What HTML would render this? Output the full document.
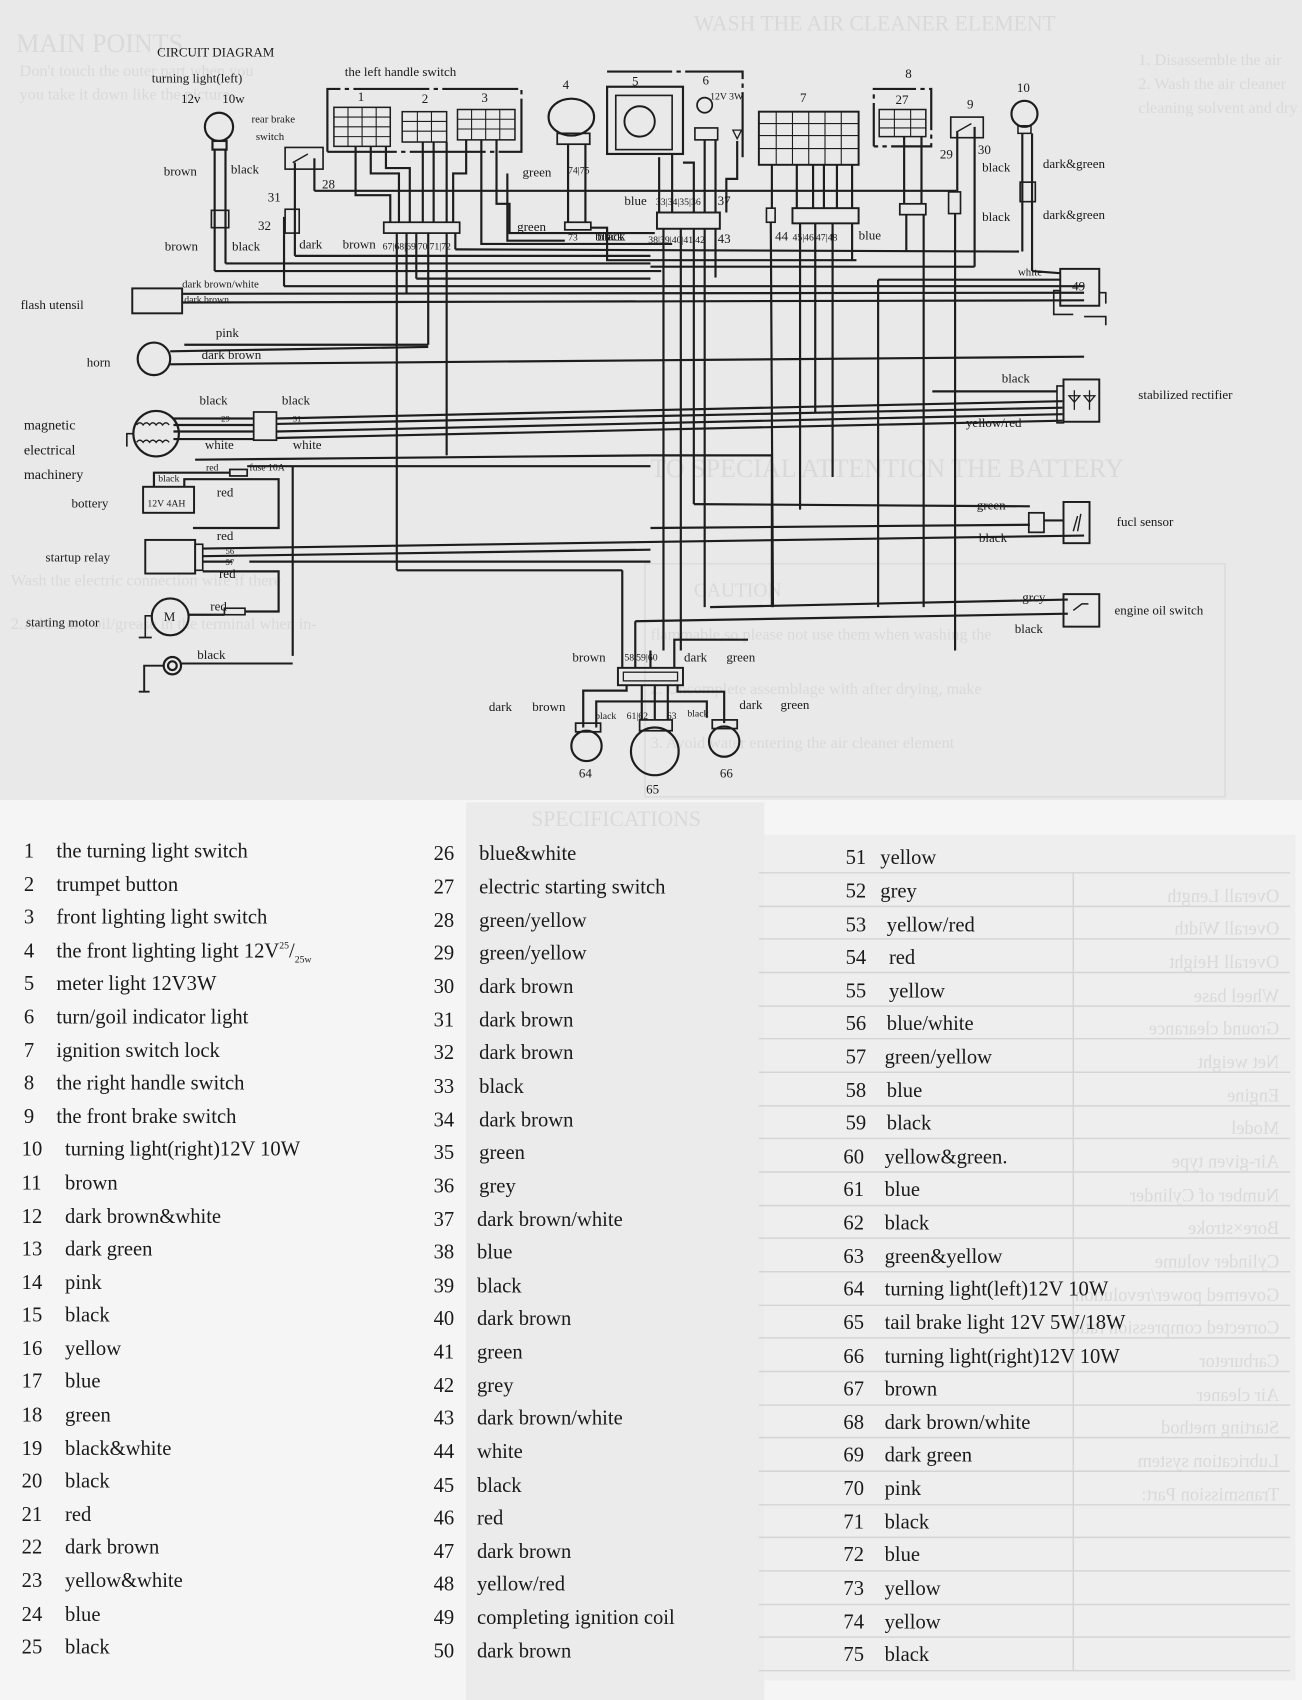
<!DOCTYPE html>
<html><head><meta charset="utf-8">
<style>
html,body{margin:0;padding:0;background:#f3f3f3;}
svg{display:block;}
text{font-family:"Liberation Serif",serif;fill:#1a1a1a;}
.g{fill:#d9d9d9;}
.lg text{font-size:19px;}
</style></head><body>
<svg width="1302" height="1700" viewBox="0 0 1201 1568" preserveAspectRatio="none" xmlns="http://www.w3.org/2000/svg">
<rect x="0" y="0" width="1201" height="738" fill="#e9e9e9"/>
<rect x="0" y="738" width="1201" height="830" fill="#f5f5f5"/>
<rect x="430" y="740" width="275" height="828" fill="#ebebeb"/>
<rect x="705" y="770" width="490" height="780" fill="#eeeeee"/>
<g font-size="20">
<text x="15" y="48" font-size="24" class="g">MAIN POINTS</text>
<text x="18" y="70" font-size="15" class="g">Don't touch the outer part when you</text>
<text x="18" y="92" font-size="15" class="g">you take it down like the picture</text>
<text x="640" y="28" font-size="20" class="g">WASH THE AIR CLEANER ELEMENT</text>
<text x="1050" y="60" font-size="15" class="g">1. Disassemble the air</text>
<text x="1050" y="82" font-size="15" class="g">2. Wash the air cleaner</text>
<text x="1050" y="104" font-size="15" class="g">cleaning solvent and dry</text>
<text x="600" y="440" font-size="24" class="g">TO SPECIAL ATTENTION THE BATTERY</text>
<text x="640" y="550" font-size="18" class="g">CAUTION</text>
<text x="600" y="590" font-size="15" class="g">flammable,so please not use them when washing the</text>
<text x="600" y="640" font-size="15" class="g">2. Uncomplete assemblage with after drying, make</text>
<text x="600" y="690" font-size="15" class="g">3. Avoid water entering the air cleaner element</text>
<text x="10" y="540" font-size="15" class="g">Wash the electric connection wire if there</text>
<text x="10" y="580" font-size="15" class="g">2.Add some oil/grease in the terminal when in-</text>
<text x="490" y="762" font-size="20" class="g">SPECIFICATIONS</text>
</g>
<rect x="595" y="520" width="535" height="215" fill="none" stroke="#dcdcdc" stroke-width="1.5"/>
<g stroke="#d4d4d4" stroke-width="1.3">
<line x1="700" y1="805" x2="1190" y2="805"/>
<line x1="700" y1="836" x2="1190" y2="836"/><line x1="700" y1="866" x2="1190" y2="866"/>
<line x1="700" y1="897" x2="1190" y2="897"/><line x1="700" y1="928" x2="1190" y2="928"/>
<line x1="700" y1="958" x2="1190" y2="958"/><line x1="700" y1="989" x2="1190" y2="989"/>
<line x1="700" y1="1020" x2="1190" y2="1020"/><line x1="700" y1="1050" x2="1190" y2="1050"/>
<line x1="700" y1="1081" x2="1190" y2="1081"/><line x1="700" y1="1112" x2="1190" y2="1112"/>
<line x1="700" y1="1142" x2="1190" y2="1142"/><line x1="700" y1="1173" x2="1190" y2="1173"/>
<line x1="700" y1="1204" x2="1190" y2="1204"/><line x1="700" y1="1234" x2="1190" y2="1234"/>
<line x1="700" y1="1265" x2="1190" y2="1265"/><line x1="700" y1="1296" x2="1190" y2="1296"/>
<line x1="700" y1="1326" x2="1190" y2="1326"/><line x1="700" y1="1357" x2="1190" y2="1357"/>
<line x1="700" y1="1388" x2="1190" y2="1388"/><line x1="700" y1="1418" x2="1190" y2="1418"/>
<line x1="700" y1="1449" x2="1190" y2="1449"/><line x1="700" y1="1480" x2="1190" y2="1480"/>
<line x1="700" y1="1510" x2="1190" y2="1510"/><line x1="700" y1="1541" x2="1190" y2="1541"/>
<line x1="990" y1="805" x2="990" y2="1541"/>
</g>
<g transform="translate(2380,0) scale(-1,1)" font-size="17">
<text x="1200" y="832" class="g">Overall Length</text><text x="1200" y="862" class="g">Overall Width</text>
<text x="1200" y="893" class="g">Overall Height</text><text x="1200" y="924" class="g">Wheel base</text>
<text x="1200" y="954" class="g">Ground clearance</text><text x="1200" y="985" class="g">Net weight</text>
<text x="1200" y="1016" class="g">Engine</text><text x="1200" y="1046" class="g">Model</text>
<text x="1200" y="1077" class="g">Air-given type</text><text x="1200" y="1108" class="g">Number of Cylinder</text>
<text x="1200" y="1138" class="g">Bore×stroke</text><text x="1200" y="1169" class="g">Cylinder volume</text>
<text x="1200" y="1200" class="g">Governed power/revolution</text><text x="1200" y="1230" class="g">Corrected compression ratio</text>
<text x="1200" y="1261" class="g">Carburetor</text><text x="1200" y="1292" class="g">Air cleaner</text>
<text x="1200" y="1322" class="g">Starting method</text><text x="1200" y="1353" class="g">Lubrication system</text>
<text x="1200" y="1384" class="g">Transmission Part:</text>
</g>

<g stroke="#1d1d1d" stroke-width="2" fill="none">
<circle cx="202" cy="117" r="13"/>
<rect x="196" y="130" width="13" height="8"/>
<line x1="198" y1="138" x2="198" y2="250"/><line x1="208" y1="138" x2="208" y2="243"/>
<rect x="195" y="194" width="16" height="16" stroke-width="1.5"/>
<line x1="208" y1="243" x2="600" y2="243"/>
<line x1="198" y1="250" x2="610" y2="250"/>
<rect x="263" y="136" width="35" height="20" stroke-width="1.5"/>
<line x1="270" y1="150" x2="284" y2="142" stroke-width="1.3"/>
<line x1="272" y1="150" x2="272" y2="215"/><line x1="290" y1="146" x2="290" y2="176"/>
<line x1="290" y1="176" x2="882" y2="176"/>
<rect x="263" y="193" width="13" height="22" stroke-width="1.5"/>
<line x1="272" y1="215" x2="272" y2="236"/><line x1="272" y1="236" x2="600" y2="236"/>
<line x1="262" y1="200" x2="262" y2="264"/><line x1="262" y1="264" x2="1000" y2="264"/>
<path d="M302 140 V82 H481 V140 H302" stroke-dasharray="70 4 4 4"/>
<rect x="308" y="99" width="52" height="36" stroke-width="1.4"/>
<path d="M308 108H360M308 117H360M308 126H360M321 99V135M334 99V135M347 99V135" stroke-width="1"/>
<rect x="371" y="103" width="41" height="28" stroke-width="1.4"/>
<path d="M371 112H412M371 121H412M385 103V131M398 103V131" stroke-width="1"/>
<rect x="422" y="101" width="53" height="28" stroke-width="1.4"/>
<path d="M422 110H475M422 119H475M435 101V129M448 101V129M461 101V129" stroke-width="1"/>
<path d="M328 135 V180 H360 V205"/><path d="M342 135 V160 H368 V205"/>
<path d="M356 135 V155 H378 V205"/><path d="M390 131 V205"/><path d="M400 131 V205"/>
<path d="M412 131 V205"/><path d="M430 129 V160 H418 V205"/>
<path d="M444 129 V225 H620"/><path d="M458 129 V188 H470 V215 H604"/>
<rect x="354" y="205" width="70" height="10" stroke-width="1.6"/>
<line x1="366" y1="215" x2="366" y2="526"/><line x1="412" y1="215" x2="412" y2="420"/>
<line x1="384" y1="215" x2="384" y2="257"/><line x1="384" y1="257" x2="600" y2="257"/>
<line x1="395" y1="215" x2="395" y2="318"/><line x1="170" y1="318" x2="395" y2="318"/>
<line x1="375" y1="215" x2="375" y2="270"/>
<line x1="420" y1="215" x2="420" y2="230"/><line x1="420" y1="230" x2="940" y2="232"/>
<rect x="122" y="266" width="46" height="23" stroke-width="1.8"/>
<line x1="168" y1="271" x2="1000" y2="270"/><line x1="168" y1="279" x2="1000" y2="277"/>
<circle cx="142" cy="331" r="15"/>
<line x1="157" y1="324" x2="395" y2="320"/><line x1="157" y1="336" x2="1000" y2="329"/>
<ellipse cx="527" cy="108" rx="21" ry="17"/>
<rect x="514" y="123" width="30" height="10" stroke-width="1.6"/>
<line x1="524" y1="133" x2="524" y2="205"/><line x1="540" y1="133" x2="540" y2="205"/>
<rect x="521" y="205" width="24" height="7" stroke-width="1.6"/>
<path d="M468 160 V222 H521"/><path d="M545 210 H560 V240 H790"/>
<rect x="560" y="80" width="70" height="62"/>
<path d="M560 66 H685 V145" stroke-dasharray="60 4 4 4"/>
<rect x="568" y="88" width="52" height="50" stroke-width="1.5"/>
<circle cx="590" cy="112" r="14" stroke-width="1.8"/>
<circle cx="650" cy="97" r="7" stroke-width="1.6"/>
<rect x="641" y="118" width="21" height="11" stroke-width="1.5"/>
<path d="M676 120 L684 120 L680 128Z" stroke-width="1.2"/>
<path d="M608 145 V196"/><path d="M620 142 V196"/><path d="M630 150 H640 V196"/><path d="M650 129 V196"/><path d="M660 129 V196"/><path d="M680 130 V165 H670 V196"/>
<rect x="606" y="196" width="58" height="15" stroke-width="1.8"/>
<line x1="612" y1="211" x2="612" y2="600"/><line x1="628" y1="211" x2="628" y2="600"/>
<line x1="640" y1="211" x2="640" y2="465"/><line x1="650" y1="211" x2="650" y2="560"/>
<line x1="660" y1="211" x2="660" y2="256"/>
<rect x="700" y="103" width="92" height="49" stroke-width="1.8"/>
<path d="M700 114H792M700 125H792M700 137H792M716 103V152M731 103V152M746 103V152M761 103V152M776 103V152" stroke-width="1"/>
<line x1="712" y1="152" x2="712" y2="192"/>
<rect x="707" y="192" width="8" height="13" stroke-width="1.5"/>
<line x1="711" y1="205" x2="713" y2="560"/>
<path d="M735 152V192M750 152V192M760 152V192M772 152V192M786 152V192" />
<rect x="731" y="192" width="61" height="14" stroke-width="1.8"/>
<line x1="738" y1="206" x2="738" y2="470"/><line x1="752" y1="206" x2="752" y2="380"/>
<line x1="768" y1="206" x2="768" y2="440"/><line x1="786" y1="206" x2="786" y2="240"/>
<path d="M806 135 V82 H859 V135 H806" stroke-dasharray="40 4 4 4"/>
<rect x="811" y="101" width="43" height="25" stroke-width="1.4"/>
<path d="M811 110H854M811 118H854M825 101V126M840 101V126" stroke-width="1"/>
<line x1="834" y1="126" x2="834" y2="188"/><line x1="850" y1="126" x2="850" y2="188"/>
<rect x="830" y="188" width="24" height="10" stroke-width="1.6"/>
<line x1="836" y1="198" x2="836" y2="232"/><line x1="852" y1="198" x2="852" y2="560"/>
<rect x="877" y="108" width="30" height="19" stroke-width="1.5"/>
<line x1="882" y1="122" x2="896" y2="114" stroke-width="1.3"/>
<line x1="883" y1="122" x2="883" y2="177"/><line x1="899" y1="117" x2="899" y2="246"/>
<rect x="875" y="177" width="11" height="20" stroke-width="1.5"/>
<line x1="881" y1="197" x2="881" y2="600"/>
<line x1="600" y1="246" x2="899" y2="246"/>
<circle cx="945" cy="105" r="12"/>
<rect x="939" y="116" width="12" height="7" stroke-width="1.4"/>
<line x1="943" y1="123" x2="943" y2="232"/><line x1="952" y1="123" x2="952" y2="250"/>
<rect x="941" y="168" width="14" height="18" stroke-width="1.5"/>
<line x1="952" y1="250" x2="978" y2="252"/>
<rect x="978" y="248" width="36" height="34" stroke-width="1.8"/>
<path d="M978 268 H972 V290 H990 M1014 270 H1020 V280 M1000 292 H1020 V300" stroke-width="1.5"/>
<line x1="810" y1="258" x2="978" y2="258"/><line x1="810" y1="258" x2="810" y2="560"/>
<circle cx="144" cy="400" r="21"/>
<path d="M126 392 q3 -4 6 0 q3 -4 6 0 q3 -4 6 0 q3 -4 6 0 q3-4 6 0 M126 408 q3 -4 6 0 q3 -4 6 0 q3 -4 6 0 q3 -4 6 0 q3-4 6 0" stroke-width="1.3"/>
<path d="M123 400 h-6 v12" stroke-width="1.5"/>
<line x1="160" y1="386" x2="234" y2="386"/><line x1="160" y1="392" x2="234" y2="392"/>
<line x1="160" y1="398" x2="234" y2="398"/><line x1="160" y1="405" x2="234" y2="405"/>
<rect x="234" y="380" width="21" height="26" stroke-width="1.6"/>
<line x1="255" y1="386" x2="980" y2="370"/><line x1="255" y1="391" x2="980" y2="376"/>
<line x1="255" y1="398" x2="980" y2="382"/><line x1="255" y1="404" x2="980" y2="388"/>
<rect x="975" y="356" width="6" height="34" stroke-width="1.5"/>
<rect x="981" y="350" width="33" height="39" stroke-width="1.8"/>
<path d="M991 360 v18 M986 365 h10 l-5 6z M1005 360 v18 M1000 365 h10 l-5 6z" stroke-width="1.2"/>
<line x1="860" y1="361" x2="975" y2="361"/>
<rect x="132" y="449" width="47" height="24" stroke-width="1.8"/>
<path d="M142 449 V436 H212 M228 430 H600"/>
<rect x="212" y="433" width="16" height="6" stroke-width="1.6"/>
<path d="M170 449 V442 H257 V487 H178"/>
<line x1="180" y1="424" x2="600" y2="420"/>
<line x1="270" y1="430" x2="270" y2="605"/>
<rect x="134" y="498" width="46" height="31" stroke-width="1.8"/>
<rect x="180" y="502" width="7" height="24" stroke-width="1.5"/>
<line x1="187" y1="506" x2="1000" y2="494"/><line x1="187" y1="513" x2="600" y2="507"/>
<path d="M187 518 H214 M230 518 H600"/>
<path d="M187 527 H257 V564 H226"/>
<rect x="207" y="561" width="19" height="6" stroke-width="1.5"/>
<circle cx="157" cy="569" r="17"/>
<line x1="174" y1="567" x2="207" y2="567"/>
<path d="M140 568 h-6 v20 M128 588 h12" stroke-width="1.5"/>
<circle cx="159" cy="614" r="8"/><circle cx="159" cy="614" r="4"/>
<path d="M167 612 H270 M151 614 h-18 v24 M128 638 h10" stroke-width="1.8"/>
<line x1="366" y1="526" x2="574" y2="526"/><line x1="574" y1="526" x2="574" y2="616"/>
<line x1="640" y1="465" x2="950" y2="467"/><line x1="600" y1="487" x2="950" y2="484"/>
<rect x="949" y="473" width="14" height="18" stroke-width="1.6"/>
<line x1="963" y1="480" x2="981" y2="480"/>
<rect x="981" y="463" width="24" height="38" stroke-width="1.8"/>
<path d="M990 490 l4 -14 M997 474 l-3 16" stroke-width="1.3"/>
<line x1="655" y1="560" x2="985" y2="553"/><line x1="586" y1="573" x2="985" y2="566"/>
<line x1="586" y1="573" x2="586" y2="616"/>
<rect x="981" y="548" width="33" height="30" stroke-width="1.8"/>
<path d="M990 563 l8 -6 l6 0" stroke-width="1.3"/>
<line x1="712" y1="560" x2="712" y2="420"/>
<line x1="600" y1="420" x2="712" y2="420"/>
<path d="M622 616 V590 H690"/><path d="M600 600 V616"/>
<rect x="570" y="616" width="60" height="16" stroke-width="1.8"/>
<rect x="575" y="620" width="50" height="8" stroke-width="1.2"/>
<path d="M578 632 V637 H538 V671"/><path d="M550 671 V647 H652 V662"/>
<path d="M625 632 V638 H668 V667"/>
<line x1="592" y1="632" x2="592" y2="664"/><line x1="604" y1="632" x2="604" y2="664"/><line x1="616" y1="632" x2="616" y2="664"/>
<rect x="531" y="667" width="23" height="8" stroke-width="1.6"/>
<ellipse cx="541" cy="688" rx="14" ry="14"/>
<rect x="590" y="664" width="30" height="10" stroke-width="1.6"/>
<circle cx="604" cy="693" r="22"/>
<rect x="657" y="664" width="23" height="8" stroke-width="1.6"/>
<ellipse cx="668" cy="684" rx="14" ry="14"/>
</g>

<g font-size="12">
<text x="145" y="52">CIRCUIT DIAGRAM</text>
<text x="140" y="76">turning  light(left)</text>
<text x="167" y="95">12v</text><text x="205" y="95">10w</text>
<text x="232" y="113" font-size="10">rear brake</text><text x="236" y="129" font-size="10">switch</text>
<text x="151" y="162">brown</text><text x="213" y="160">black</text>
<text x="152" y="231">brown</text><text x="214" y="231">black</text>
<text x="297" y="174">28</text><text x="247" y="186">31</text><text x="238" y="212">32</text>
<text x="276" y="229">dark</text><text x="316" y="229">brown</text>
<text x="318" y="70">the left handle switch</text>
<text x="330" y="93">1</text><text x="389" y="95">2</text><text x="444" y="94">3</text>
<text x="353" y="230" font-size="9">67|68|69|70|71|72</text>
<text x="519" y="82">4</text>
<text x="482" y="163">green</text><text x="524" y="160" font-size="9">74|75</text>
<text x="477" y="213">green</text><text x="524" y="222" font-size="9">73</text><text x="551" y="222">black</text>
<text x="168" y="265" font-size="10">dark brown/white</text><text x="170" y="279" font-size="9">dark brown</text>
<text x="19" y="285">flash  utensil</text>
<text x="199" y="311">pink</text><text x="186" y="331">dark  brown</text>
<text x="80" y="338">horn</text>
<text x="184" y="373">black</text><text x="260" y="373">black</text>
<text x="189" y="414">white</text><text x="270" y="414">white</text>
<text x="204" y="389" font-size="8">29</text><text x="270" y="389" font-size="8">31</text>
<text x="22" y="396" font-size="13">magnetic</text><text x="22" y="419" font-size="13">electrical</text><text x="22" y="442" font-size="13">machinery</text>
<text x="146" y="444" font-size="9">black</text>
<text x="190" y="434" font-size="9">red</text><text x="230" y="434" font-size="9">fuse 10A</text>
<text x="200" y="458">red</text>
<text x="136" y="467" font-size="9">12V 4AH</text>
<text x="66" y="468">bottery</text>
<text x="200" y="498">red</text><text x="202" y="533">red</text>
<text x="208" y="511" font-size="8">56</text><text x="208" y="521" font-size="8">57</text>
<text x="42" y="518">startup   relay</text>
<text x="24" y="578">starting   motor</text>
<text x="151" y="573" font-size="12">M</text>
<text x="194" y="563">red</text>
<text x="182" y="608">black</text>
<text x="583" y="79">5</text>
<text x="648" y="78">6</text><text x="655" y="92" font-size="9">12V 3W</text>
<text x="576" y="189">blue</text>
<text x="605" y="189" font-size="9">33|34|35|36</text><text x="662" y="189">37</text>
<text x="598" y="224" font-size="9">38|39|40|41|42</text><text x="662" y="224">43</text>
<text x="549" y="222">black</text>
<text x="738" y="94">7</text>
<text x="715" y="222">44</text><text x="731" y="222" font-size="9">45|46|47|48</text><text x="792" y="221">blue</text>
<text x="835" y="72">8</text><text x="826" y="96">27</text>
<text x="892" y="100">9</text><text x="867" y="146">29</text><text x="902" y="142">30</text>
<text x="906" y="158">black</text><text x="906" y="204">black</text>
<text x="938" y="85">10</text>
<text x="962" y="155">dark&amp;green</text><text x="962" y="202">dark&amp;green</text>
<text x="939" y="254" font-size="10">white</text>
<text x="989" y="268">49</text>
<text x="924" y="353">black</text>
<text x="1050" y="368">stabilized  rectifier</text>
<text x="891" y="394">yellow/red</text>
<text x="901" y="470">green</text><text x="903" y="500">black</text>
<text x="1030" y="485">fucl  sensor</text>
<text x="943" y="555">grcy</text><text x="936" y="584">black</text>
<text x="1028" y="567">engine  oil  switch</text>
<text x="528" y="610">brown</text>
<text x="576" y="609" font-size="9">58|59|60</text>
<text x="631" y="610">dark</text><text x="670" y="610">green</text>
<text x="451" y="656">dark</text><text x="491" y="656">brown</text>
<text x="549" y="663" font-size="9">black</text><text x="578" y="663" font-size="9">61|62</text><text x="615" y="663" font-size="9">63</text><text x="634" y="661" font-size="9">black</text>
<text x="682" y="654">dark</text><text x="720" y="654">green</text>
<text x="534" y="717">64</text><text x="596" y="732">65</text><text x="664" y="717">66</text>
</g>

<g class="lg">
<text x="22" y="791">1</text><text x="52" y="791">the turning light switch</text>
<text x="22" y="822">2</text><text x="52" y="822">trumpet button</text>
<text x="22" y="852">3</text><text x="52" y="852">front lighting light switch</text>
<text x="22" y="883">4</text><text x="52" y="883">the front lighting light 12V<tspan font-size="9" dy="-8">25</tspan><tspan dy="8">/</tspan><tspan font-size="9" dy="5">25w</tspan></text>
<text x="22" y="913">5</text><text x="52" y="913">meter light 12V3W</text>
<text x="22" y="944">6</text><text x="52" y="944">turn/goil indicator light</text>
<text x="22" y="975">7</text><text x="52" y="975">ignition switch lock</text>
<text x="22" y="1005">8</text><text x="52" y="1005">the right handle switch</text>
<text x="22" y="1036">9</text><text x="52" y="1036">the front brake switch</text>
<text x="20" y="1066">10</text><text x="60" y="1066">turning light(right)12V  10W</text>
<text x="20" y="1097">11</text><text x="60" y="1097">brown</text>
<text x="20" y="1128">12</text><text x="60" y="1128">dark brown&amp;white</text>
<text x="20" y="1158">13</text><text x="60" y="1158">dark green</text>
<text x="20" y="1189">14</text><text x="60" y="1189">pink</text>
<text x="20" y="1219">15</text><text x="60" y="1219">black</text>
<text x="20" y="1250">16</text><text x="60" y="1250">yellow</text>
<text x="20" y="1280">17</text><text x="60" y="1280">blue</text>
<text x="20" y="1311">18</text><text x="60" y="1311">green</text>
<text x="20" y="1342">19</text><text x="60" y="1342">black&amp;white</text>
<text x="20" y="1372">20</text><text x="60" y="1372">black</text>
<text x="20" y="1403">21</text><text x="60" y="1403">red</text>
<text x="20" y="1433">22</text><text x="60" y="1433">dark brown</text>
<text x="20" y="1464">23</text><text x="60" y="1464">yellow&amp;white</text>
<text x="20" y="1495">24</text><text x="60" y="1495">blue</text>
<text x="20" y="1525">25</text><text x="60" y="1525">black</text>

<text x="400" y="793">26</text><text x="442" y="793">blue&amp;white</text>
<text x="400" y="824">27</text><text x="442" y="824">electric starting switch</text>
<text x="400" y="855">28</text><text x="442" y="855">green/yellow</text>
<text x="400" y="885">29</text><text x="442" y="885">green/yellow</text>
<text x="400" y="916">30</text><text x="442" y="916">dark brown</text>
<text x="400" y="947">31</text><text x="442" y="947">dark brown</text>
<text x="400" y="977">32</text><text x="442" y="977">dark brown</text>
<text x="400" y="1008">33</text><text x="442" y="1008">black</text>
<text x="400" y="1039">34</text><text x="442" y="1039">dark brown</text>
<text x="400" y="1069">35</text><text x="442" y="1069">green</text>
<text x="400" y="1100">36</text><text x="442" y="1100">grey</text>
<text x="400" y="1131">37</text><text x="440" y="1131">dark brown/white</text>
<text x="400" y="1161">38</text><text x="440" y="1161">blue</text>
<text x="400" y="1192">39</text><text x="440" y="1192">black</text>
<text x="400" y="1222">40</text><text x="440" y="1222">dark brown</text>
<text x="400" y="1253">41</text><text x="440" y="1253">green</text>
<text x="400" y="1284">42</text><text x="440" y="1284">grey</text>
<text x="400" y="1314">43</text><text x="440" y="1314">dark brown/white</text>
<text x="400" y="1345">44</text><text x="440" y="1345">white</text>
<text x="400" y="1376">45</text><text x="440" y="1376">black</text>
<text x="400" y="1406">46</text><text x="440" y="1406">red</text>
<text x="400" y="1437">47</text><text x="440" y="1437">dark brown</text>
<text x="400" y="1467">48</text><text x="440" y="1467">yellow/red</text>
<text x="400" y="1498">49</text><text x="440" y="1498">completing ignition coil</text>
<text x="400" y="1529">50</text><text x="440" y="1529">dark brown</text>

<text x="780" y="797">51</text><text x="812" y="797">yellow</text>
<text x="780" y="828">52</text><text x="812" y="828">grey</text>
<text x="780" y="859">53</text><text x="818" y="859">yellow/red</text>
<text x="780" y="889">54</text><text x="820" y="889">red</text>
<text x="780" y="920">55</text><text x="820" y="920">yellow</text>
<text x="780" y="950">56</text><text x="818" y="950">blue/white</text>
<text x="780" y="981">57</text><text x="816" y="981">green/yellow</text>
<text x="780" y="1012">58</text><text x="818" y="1012">blue</text>
<text x="780" y="1042">59</text><text x="818" y="1042">black</text>
<text x="778" y="1073">60</text><text x="816" y="1073">yellow&amp;green.</text>
<text x="778" y="1103">61</text><text x="816" y="1103">blue</text>
<text x="778" y="1134">62</text><text x="816" y="1134">black</text>
<text x="778" y="1165">63</text><text x="816" y="1165">green&amp;yellow</text>
<text x="778" y="1195">64</text><text x="816" y="1195">turning light(left)12V  10W</text>
<text x="778" y="1226">65</text><text x="816" y="1226">tail brake light 12V  5W/18W</text>
<text x="778" y="1257">66</text><text x="816" y="1257">turning light(right)12V  10W</text>
<text x="778" y="1287">67</text><text x="816" y="1287">brown</text>
<text x="778" y="1318">68</text><text x="816" y="1318">dark brown/white</text>
<text x="778" y="1348">69</text><text x="816" y="1348">dark green</text>
<text x="778" y="1379">70</text><text x="816" y="1379">pink</text>
<text x="778" y="1410">71</text><text x="816" y="1410">black</text>
<text x="778" y="1440">72</text><text x="816" y="1440">blue</text>
<text x="778" y="1471">73</text><text x="816" y="1471">yellow</text>
<text x="778" y="1502">74</text><text x="816" y="1502">yellow</text>
<text x="778" y="1532">75</text><text x="816" y="1532">black</text>
</g>
</svg>
</body></html>
